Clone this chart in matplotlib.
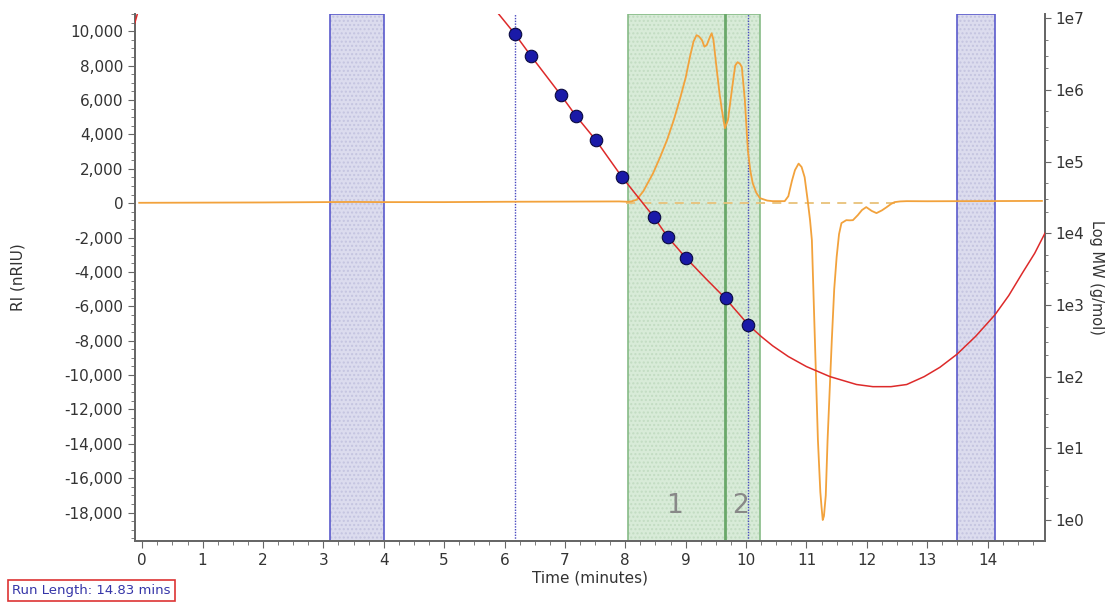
import numpy as np
import matplotlib
matplotlib.use("Agg")
import matplotlib.pyplot as plt
from matplotlib.ticker import FuncFormatter, MultipleLocator, FixedLocator, LogLocator, NullFormatter

# RI trace (orange), time in minutes, RI in nRIU
ri_time = [-0.05, 1.0, 2.0, 3.0, 3.5, 4.0, 5.0, 6.0, 7.0, 7.9, 8.05, 8.10, 8.19, 8.30, 8.46,
           8.58, 8.69, 8.80, 8.90, 9.00, 9.07, 9.13, 9.18, 9.22, 9.27, 9.31, 9.35, 9.40,
           9.43, 9.46, 9.51, 9.56, 9.60, 9.65, 9.70, 9.74, 9.78, 9.82, 9.86, 9.90, 9.93,
           9.98, 10.03, 10.07, 10.11, 10.17, 10.23, 10.35, 10.44, 10.64, 10.70, 10.76,
           10.81, 10.87, 10.92, 10.97, 11.02, 11.06, 11.09, 11.14, 11.19, 11.23, 11.25,
           11.27, 11.29, 11.32, 11.35, 11.42, 11.46, 11.50, 11.54, 11.58, 11.66, 11.72,
           11.77, 11.85, 11.92, 11.99, 12.08, 12.16, 12.25, 12.33, 12.40, 12.46, 12.55,
           12.66, 13.0, 14.0, 14.9]
ri_value = [20, 30, 40, 60, 70, 60, 60, 80, 90, 100, 80, 100, 200, 700, 1740,
            2700, 3660, 4800, 5990, 7300, 8500, 9400, 9770, 9700, 9480, 9100, 9200, 9650,
            9880, 9500, 7910, 6400, 5410, 4360, 4830, 5900, 6980, 8000, 8200, 8100, 7910,
            5990, 3080, 1900, 1160, 600, 290, 150, 116, 116, 400, 1300,
            1920, 2300, 2100, 1510, 174, -1000, -2150, -7970, -13780, -16800, -17670,
            -18430, -18200, -17000, -13780, -7970, -5000, -3140, -1800, -1160, -990, -1000,
            -990, -700, -400, -230, -450, -580, -420, -230, -50, 60, 100,
            116, 110, 120, 130]

# calibration curve (red) and standards (blue dots), log10 MW
cal_time = [-0.15, -0.05, 2.5, 5.7, 5.9, 6.17, 6.44, 6.93, 7.18, 7.51, 7.94, 8.47, 8.70,
            9.00, 9.33, 9.66, 10.04, 10.25, 10.44, 10.70, 11.00, 11.39, 11.83, 12.10, 12.40,
            12.66, 12.95, 13.21, 13.49, 13.80, 14.12, 14.35, 14.58, 14.78, 14.95]
cal_logmw = [6.85, 7.15, 9.5, 7.3, 7.06, 6.78, 6.47, 5.93, 5.64, 5.30, 4.79, 4.23, 3.95,
             3.66, 3.37, 3.09, 2.72, 2.56, 2.43, 2.28, 2.14, 2.00, 1.89, 1.86, 1.86,
             1.89, 2.00, 2.13, 2.31, 2.56, 2.86, 3.13, 3.45, 3.72, 4.00]
std_time = [6.17, 6.44, 6.93, 7.18, 7.51, 7.94, 8.47, 8.70, 9.00, 9.66, 10.04]
std_logmw = [6.78, 6.47, 5.93, 5.64, 5.30, 4.79, 4.23, 3.95, 3.66, 3.09, 2.72]

excl_bands = [(3.11, 4.00), (13.49, 14.12)]
peak_band = (8.04, 10.23)
peak_split = 9.65
limit_lines = [6.17, 10.04]
peak_labels = ["1", "2"]
peak_label_x = [8.82, 9.91]
baseline_range = (8.02, 12.5)

fig = plt.figure(figsize=(11.1, 6.04), dpi=100)
ax = fig.add_axes([0.1216, 0.1043, 0.8198, 0.8725])
ax2 = ax.twinx()

ax.set_xlim(-0.12, 14.95)
ax.set_ylim(-19650, 11000)
ax2.set_yscale("log")
ax2.set_ylim(0.51, 1.14e7)

# bands
for a, b in excl_bands:
    ax.axvspan(a, b, facecolor="#dcdcee", edgecolor="#c4c4e0", hatch="....", lw=0, zorder=0)
    ax.axvspan(a, b, facecolor="none", edgecolor="#5a5acc", lw=1.2, zorder=1)
ax.axvspan(*peak_band, facecolor="#d8ebd8", edgecolor="#c2dcc2", hatch="....", lw=0, zorder=0)
ax.axvspan(*peak_band, facecolor="none", edgecolor="#86bb86", lw=1.2, zorder=1)
ax.axvline(peak_split, color="#6aa86a", lw=2, zorder=1)
for x in limit_lines:
    ax.axvline(x, color="#4848c0", lw=1, ls=(0, (1, 1)), zorder=1)
for lab, x in zip(peak_labels, peak_label_x):
    ax.text(x, -17600, lab, color="#888888", fontsize=19, ha="center", va="center", zorder=2)

# RI trace
ax.plot(baseline_range, [0, 0], color="#e8c27a", lw=1.3, ls=(0, (5, 4)), zorder=2)
ax.plot(ri_time, ri_value, color="#f2a23c", lw=1.3, zorder=3)

# calibration
ax2.plot(cal_time, 10 ** np.array(cal_logmw), color="#dd2a2a", lw=1.1, zorder=3)
ax2.plot(std_time, 10 ** np.array(std_logmw), "o", color="#1a1aa8", mec="#0a0a40",
         mew=0.8, ms=9, zorder=4)

# axes styling
gray = "#666666"
for a in (ax, ax2):
    a.spines["top"].set_visible(False)
    for s in ("left", "right", "bottom"):
        a.spines[s].set_color(gray)
        a.spines[s].set_linewidth(1.3)

ax.yaxis.set_major_locator(MultipleLocator(2000))
ax.yaxis.set_minor_locator(MultipleLocator(500))
ax.yaxis.set_major_formatter(FuncFormatter(lambda v, p: f"{v:,.0f}"))
ax.xaxis.set_major_locator(FixedLocator(range(0, 15)))
ax.xaxis.set_minor_locator(MultipleLocator(0.25))
ax.tick_params(axis="y", colors=gray, labelcolor="#333333", labelsize=11, length=5)
ax.tick_params(axis="y", which="minor", colors=gray, length=3)
ax.tick_params(axis="x", colors=gray, labelcolor="#333333", labelsize=11, length=5)
ax.tick_params(axis="x", which="minor", colors=gray, length=3)

ax2.yaxis.set_major_locator(LogLocator(base=10, numticks=20))
ax2.yaxis.set_minor_locator(LogLocator(base=10, subs=(2, 3, 5), numticks=20))
ax2.yaxis.set_minor_formatter(NullFormatter())
ax2.yaxis.set_major_formatter(FuncFormatter(lambda v, p: f"1e{int(round(np.log10(v)))}"))
ax2.tick_params(axis="y", colors=gray, labelcolor="#333333", labelsize=11, length=4)
ax2.tick_params(axis="y", which="minor", colors=gray, length=2)

ax.set_xlabel("Time (minutes)", fontsize=11, color="#333333", labelpad=2)
ax.set_ylabel("RI (nRIU)", fontsize=11, color="#333333", labelpad=28)
ax2.set_ylabel("Log MW (g/mol)", fontsize=10.5, color="#333333", rotation=270, labelpad=14)

fig.text(0.011, 0.017, "Run Length: 14.83 mins", fontsize=9.5, color="#3535a8",
         bbox=dict(boxstyle="square,pad=0.3", facecolor="white", edgecolor="#dd3333", lw=1.2))

fig.savefig("out.png", dpi=100)
